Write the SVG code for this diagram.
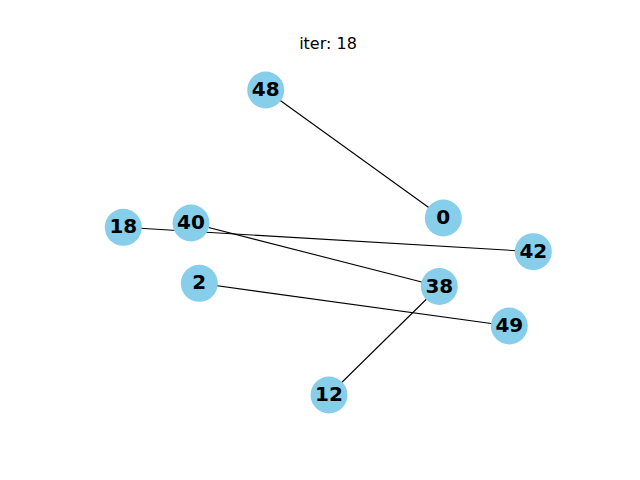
<svg xmlns="http://www.w3.org/2000/svg" width="640" height="480" viewBox="0 0 640 480">
<style>
.n{fill:#87CEEB}
.l{font-family:"DejaVu Sans",sans-serif;font-weight:bold;font-size:20px;fill:#000;text-anchor:middle;dominant-baseline:central}
.e{stroke:#000;stroke-width:1.1;fill:none}
</style>
<rect width="640" height="480" fill="#fff"/>
<text x="328" y="48.5" font-family="DejaVu Sans, sans-serif" font-size="16" text-anchor="middle">iter: 18</text>
<g id="edges">
<line class="e" x1="265.7" y1="90" x2="443.3" y2="218"/>
<line class="e" x1="123.3" y1="227.3" x2="533.3" y2="251.7"/>
<line class="e" x1="191" y1="223" x2="439.3" y2="286.5"/>
<line class="e" x1="199.3" y1="283.3" x2="509.3" y2="326"/>
<line class="e" x1="439.3" y1="286.5" x2="329" y2="395"/>
</g>
<g id="n48"><circle class="n" cx="265.7" cy="90" r="18.5"/><text class="l" x="265.7" y="89">48</text></g>
<g id="n0"><circle class="n" cx="443.3" cy="218" r="18.5"/><text class="l" x="443.3" y="217">0</text></g>
<g id="n18"><circle class="n" cx="123.3" cy="227.3" r="18.5"/><text class="l" x="123.3" y="226.3">18</text></g>
<g id="n40"><circle class="n" cx="191" cy="223" r="18.5"/><text class="l" x="191" y="222">40</text></g>
<g id="n42"><circle class="n" cx="533.3" cy="251.7" r="18.5"/><text class="l" x="533.3" y="250.7">42</text></g>
<g id="n2"><circle class="n" cx="199.3" cy="283.3" r="18.5"/><text class="l" x="199.3" y="282.3">2</text></g>
<g id="n38"><circle class="n" cx="439.3" cy="286.5" r="18.5"/><text class="l" x="439.3" y="285.5">38</text></g>
<g id="n49"><circle class="n" cx="509.3" cy="326" r="18.5"/><text class="l" x="509.3" y="325">49</text></g>
<g id="n12"><circle class="n" cx="329" cy="395" r="18.5"/><text class="l" x="329" y="394">12</text></g>
</svg>
